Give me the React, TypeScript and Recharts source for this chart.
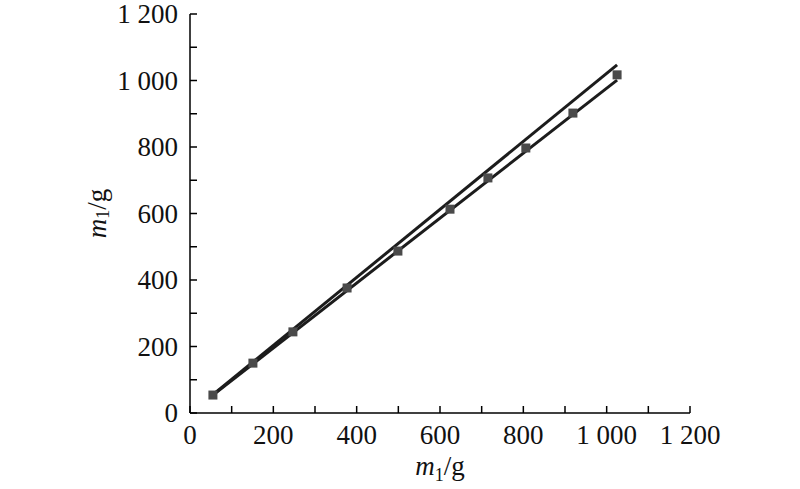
import React from 'react';
import { ScatterChart, Scatter, XAxis, YAxis, Label } from 'recharts';

// measured masses (g)
const massIn = [55, 151, 247, 377, 499, 624, 715, 806, 919, 1025];
const massOut = [54, 150, 244, 376, 487, 613, 707, 797, 902, 1017];

// the two fitted lines, end points only
const fitX = [55, 1025];
const fitUpperY = [55, 1047];
const fitLowerY = [54, 1001];

const ticks = [0, 100, 200, 300, 400, 500, 600, 700, 800, 900, 1000, 1100, 1200];

const points = massIn.map((x, i) => ({ x, y: massOut[i] }));
const upper = fitX.map((x, i) => ({ x, y: fitUpperY[i] }));
const lower = fitX.map((x, i) => ({ x, y: fitLowerY[i] }));

const FONT = '"Liberation Serif", "Times New Roman", serif';
const fmt = (v: number) => (v >= 1000 ? `${Math.floor(v / 1000)} ${String(v % 1000).padStart(3, '0')}` : String(v));

const XTick = ({ x, y, payload }: any) => {
    const v = payload.value;
    return (
        <g>
            <line x1={x} x2={x} y1={y} y2={y - 7} stroke="#000" strokeWidth={1.5} />
            {v % 200 === 0 && (
                <text x={x} y={y + 31} textAnchor="middle" fontSize={27} fontFamily={FONT} fill="#111">
                    {fmt(v)}
                </text>
            )}
        </g>
    );
};

const YTick = ({ x, y, payload }: any) => {
    const v = payload.value;
    return (
        <g>
            <line x1={x} x2={x + 7} y1={y} y2={y} stroke="#000" strokeWidth={1.5} />
            {v % 200 === 0 && (
                <text x={x - 12} y={y + 9} textAnchor="end" fontSize={27} fontFamily={FONT} fill="#111">
                    {fmt(v)}
                </text>
            )}
        </g>
    );
};

const AxisTitle = ({ viewBox, vertical }: any) => {
    const { x, y, width, height } = viewBox;
    const text = (
        <>
            <tspan fontStyle="italic">m</tspan>
            <tspan fontSize={18} dy={6}>1</tspan>
            <tspan dy={-6}>/g</tspan>
        </>
    );
    if (vertical) {
        const cx = 97;
        const cy = y + height / 2;
        return (
            <text x={cx} y={cy} transform={`rotate(-90 ${cx} ${cy})`} textAnchor="middle" dominantBaseline="central" fontSize={27} fontFamily={FONT} fill="#111">
                {text}
            </text>
        );
    }
    return (
        <text x={x + width / 2} y={475} textAnchor="middle" fontSize={27} fontFamily={FONT} fill="#111">
            {text}
        </text>
    );
};

const App: React.FC = () => {
    return (
        <div style={{ position: 'absolute', left: 0, top: 0, background: '#fff' }}>
            <ScatterChart width={800} height={489} margin={{ top: 14, right: 110, bottom: 0, left: 0 }}>
                <XAxis
                    type="number"
                    dataKey="x"
                    domain={[0, 1200]}
                    ticks={ticks}
                    interval={0}
                    height={76}
                    tickSize={0}
                    tickMargin={0}
                    tickLine={false}
                    tick={<XTick />}
                    axisLine={{ stroke: '#000', strokeWidth: 1.5 }}
                >
                    <Label content={<AxisTitle />} />
                </XAxis>
                <YAxis
                    type="number"
                    dataKey="y"
                    domain={[0, 1200]}
                    ticks={ticks}
                    interval={0}
                    width={190}
                    tickSize={0}
                    tickMargin={0}
                    tickLine={false}
                    tick={<YTick />}
                    axisLine={{ stroke: '#000', strokeWidth: 1.5 }}
                >
                    <Label content={<AxisTitle vertical />} />
                </YAxis>
                <Scatter data={upper} line={{ stroke: '#1c1c1c', strokeWidth: 3 }} shape={() => <g />} isAnimationActive={false} />
                <Scatter data={lower} line={{ stroke: '#1c1c1c', strokeWidth: 3 }} shape={() => <g />} isAnimationActive={false} />
                <Scatter
                    data={points}
                    isAnimationActive={false}
                    shape={(p: any) => <rect x={p.cx - 4.5} y={p.cy - 4.5} width={9} height={9} fill="#4a4a4a" />}
                />
            </ScatterChart>
        </div>
    );
};

export default App;
